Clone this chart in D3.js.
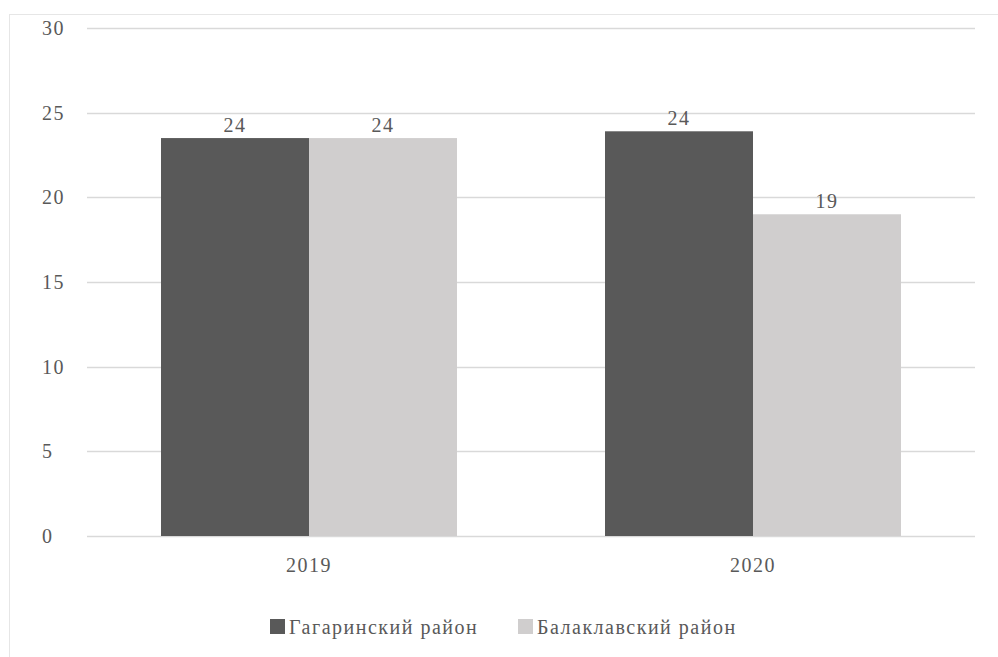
<!DOCTYPE html>
<html>
<head>
<meta charset="utf-8">
<script src="https://cdn.jsdelivr.net/npm/d3@7"></script>
<style>
  body { margin: 0; background: #fff; }
  svg text { font-family: 'Liberation Serif', 'DejaVu Serif', 'Times New Roman', serif; letter-spacing: 1.5px; }
</style>
</head>
<body>
<div id="chart"></div>
<script>
// Data
const years = ['2019', '2020'];
const seriesNames = ['Гагаринский район', 'Балаклавский район'];
const gagarinsky = [23.5, 23.9];
const balaklavsky = [23.5, 19.0];
const yTicks = [0, 5, 10, 15, 20, 25, 30];

const colors = ['#595959', '#d0cece'];
const textColor = '#595959';
const fontSize = '20px';

const width = 998, height = 657;
const margin = { left: 87, right: 23, top: 28, bottom: 121 };

const svg = d3.select('#chart').append('svg')
    .attr('width', width)
    .attr('height', height);

// frame
svg.append('rect')
    .attr('x', 9.5).attr('y', 14.5)
    .attr('width', width).attr('height', height)
    .attr('fill', 'none')
    .attr('stroke', '#e6e6e6');

const x = d3.scaleBand()
    .domain(years)
    .range([margin.left, width - margin.right])
    .paddingInner(1 / 3)
    .paddingOuter(1 / 6);

const x1 = d3.scaleBand()
    .domain(d3.range(seriesNames.length))
    .range([0, x.bandwidth()]);

const y = d3.scaleLinear()
    .domain([0, 30])
    .range([height - margin.bottom, margin.top]);

// gridlines
svg.append('g')
    .selectAll('line')
    .data(yTicks)
    .enter()
    .append('line')
    .attr('x1', margin.left)
    .attr('x2', width - margin.right)
    .attr('y1', d => Math.round(y(d)) + 0.5)
    .attr('y2', d => Math.round(y(d)) + 0.5)
    .attr('stroke', '#d9d9d9')
    .attr('stroke-width', 1.5);

// y labels
svg.append('g')
    .selectAll('text')
    .data(yTicks)
    .enter()
    .append('text')
    .attr('x', 42)
    .attr('y', d => y(d) + 7)
    .attr('fill', textColor)
    .style('font-size', fontSize)
    .text(d => d);

// bars
const rows = years.map((yr, i) => ({ year: yr, values: [gagarinsky[i], balaklavsky[i]] }));

const groups = svg.append('g')
    .selectAll('g')
    .data(rows)
    .enter()
    .append('g')
    .attr('transform', d => 'translate(' + x(d.year) + ',0)');

groups.selectAll('rect')
    .data(d => d.values)
    .enter()
    .append('rect')
    .attr('x', (d, i) => x1(i))
    .attr('width', x1.bandwidth())
    .attr('y', d => y(d))
    .attr('height', d => y(0) - y(d))
    .attr('fill', (d, i) => colors[i]);

groups.selectAll('text')
    .data(d => d.values)
    .enter()
    .append('text')
    .attr('x', (d, i) => x1(i) + x1.bandwidth() / 2)
    .attr('y', d => y(d) - 6)
    .attr('text-anchor', 'middle')
    .attr('fill', textColor)
    .style('font-size', fontSize)
    .text(d => d3.format('.0f')(d));

// x labels
svg.append('g')
    .selectAll('text')
    .data(years)
    .enter()
    .append('text')
    .attr('x', d => x(d) + x.bandwidth() / 2)
    .attr('y', 572)
    .attr('text-anchor', 'middle')
    .attr('fill', textColor)
    .style('font-size', fontSize)
    .text(d => d);

// legend
const legendX = [270, 518];
const legend = svg.append('g')
    .selectAll('g')
    .data(seriesNames)
    .enter()
    .append('g')
    .attr('transform', (d, i) => 'translate(' + legendX[i] + ',619)');

legend.append('rect')
    .attr('width', 15)
    .attr('height', 15)
    .attr('fill', (d, i) => colors[i]);

legend.append('text')
    .attr('x', 19)
    .attr('y', 15)
    .attr('fill', textColor)
    .style('font-size', fontSize)
    .text(d => d);
</script>
</body>
</html>
